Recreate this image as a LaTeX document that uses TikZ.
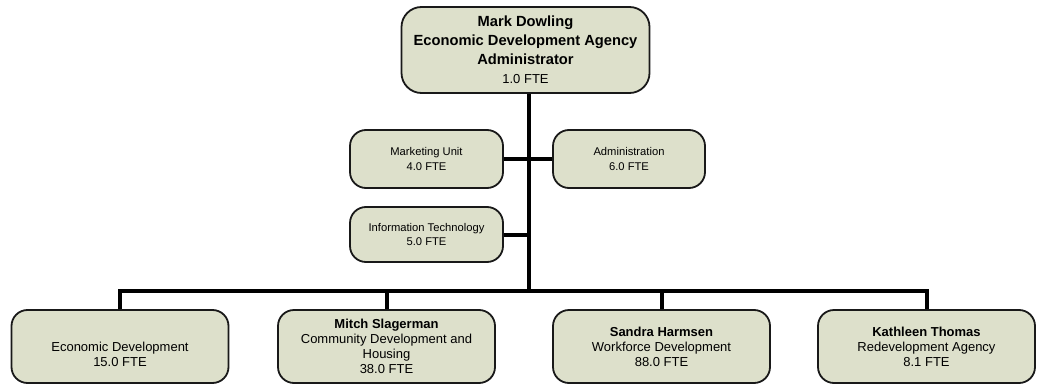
\documentclass[tikz,border=0pt]{standalone}
\usepackage{fontspec}
\setmainfont{Liberation Sans}
\definecolor{boxfill}{RGB}{221,224,203}
\definecolor{boxline}{RGB}{25,25,25}
\tikzset{
  orgbox/.style={draw=boxline, line width=1.8pt, fill=boxfill, rounded corners=16pt, inner sep=0pt, align=center},
  topbox/.style={orgbox, rounded corners=20pt, minimum width=248pt, minimum height=86pt, font=\fontsize{14.7}{19}\selectfont},
  smallbox/.style={orgbox, minimum width=153pt, font=\fontsize{11.2}{14.5}\selectfont},
  bottombox/.style={orgbox, minimum width=217pt, minimum height=73pt, font=\fontsize{13}{15}\selectfont},
  conn/.style={line width=4pt, draw=black},
  plaintext/.style={align=center, inner sep=0pt, font=\fontsize{13}{15}\selectfont}
}
\begin{document}
\begin{tikzpicture}[x=1pt,y=-1pt]
\useasboundingbox (0,0) rectangle (1051,385);
\fill[white] (0,0) rectangle (1051,385);
\coordinate (busc) at (529,291);
\node[topbox] (top) at (525.5,50) {\textbf{Mark Dowling}\\\textbf{Economic Development Agency}\\\textbf{Administrator}\\{\fontsize{13}{19}\selectfont 1.0 FTE}};
\node[smallbox, minimum height=58pt] (mk) at (426.5,159) {Marketing Unit\\4.0 FTE};
\node[smallbox, minimum height=58pt, minimum width=152pt] (adm) at (629,159) {Administration\\6.0 FTE};
\node[smallbox, minimum height=55pt] (it) at (426.5,234.5) {Information Technology\\5.0 FTE};
\node[bottombox] (b1) at (120,346.5) {};
\node[bottombox] (b2) at (386.5,346.5) {\textbf{Mitch Slagerman}\\Community Development and\\Housing\\38.0 FTE};
\node[bottombox] (b3) at (661.5,346.5) {\textbf{Sandra Harmsen}\\Workforce Development\\88.0 FTE};
\node[bottombox] (b4) at (926.5,346.5) {\textbf{Kathleen Thomas}\\Redevelopment Agency\\8.1 FTE};
\node[plaintext] (b1t) at (120,354.5) {Economic Development\\15.0 FTE};
% connectors
\draw[conn] (top.south -| busc) -- (busc);
\draw[conn] (mk.east) -- (adm.west);
\draw[conn] (it.east) -- (it.east -| busc);
\draw[conn] (b1.north) |- (b4.north |- busc) -- (b4.north);
\draw[conn] (b2.north) -- (b2.north |- busc);
\draw[conn] (b3.north) -- (b3.north |- busc);
\end{tikzpicture}
\end{document}
